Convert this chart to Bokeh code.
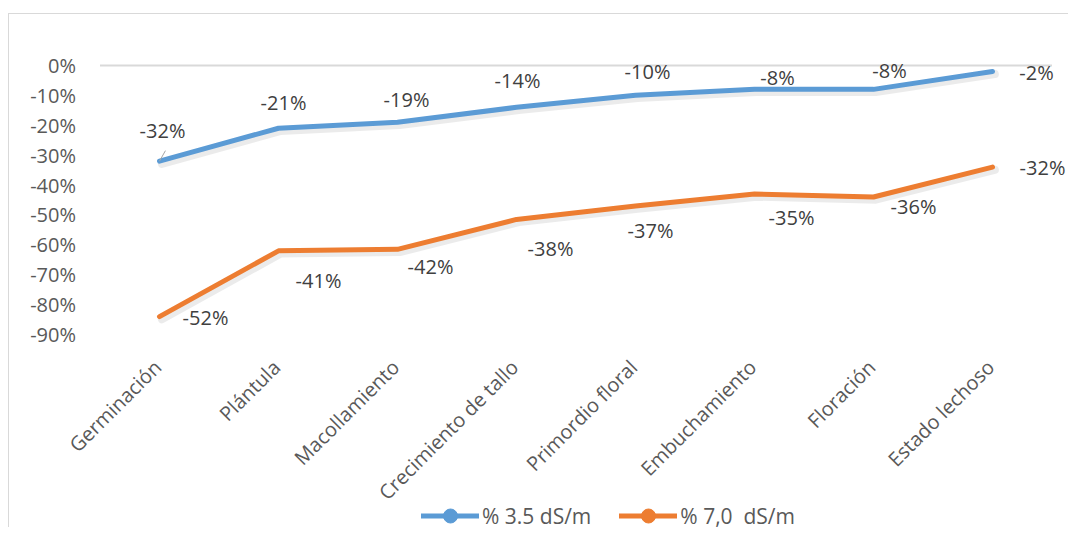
from bokeh.plotting import figure
from bokeh.models import Range1d, ColumnDataSource, Legend, LegendItem
from bokeh.core.properties import value
from bokeh.transform import dodge
from bokeh.embed import file_html
from bokeh.resources import INLINE
import math

categories = ["Germinación", "Plántula", "Macollamiento", "Crecimiento de tallo",
              "Primordio floral", "Embuchamiento", "Floración", "Estado lechoso"]
serie_35 = [-0.32, -0.21, -0.19, -0.14, -0.10, -0.08, -0.08, -0.02]
serie_70 = [-0.84, -0.62, -0.615, -0.515, -0.47, -0.43, -0.44, -0.34]
labels_35 = ["-32%", "-21%", "-19%", "-14%", "-10%", "-8%", "-8%", "-2%"]
labels_70 = ["-52%", "-41%", "-42%", "-38%", "-37%", "-35%", "-36%", "-32%"]
y_ticks = [0, -0.1, -0.2, -0.3, -0.4, -0.5, -0.6, -0.7, -0.8, -0.9]
y_tick_labels = ["0%", "-10%", "-20%", "-30%", "-40%", "-50%", "-60%", "-70%", "-80%", "-90%"]
name_35 = "% 3.5 dS/m"
name_70 = "% 7,0  dS/m"

# label placement (screen pixel offsets)
off_35 = [(3, -31), (5, -26), (9, -23), (1, -27), (12, -24), (23, -12), (16, -19), (44, 1)]
off_70 = [(46, 1), (40, 30), (33, 17), (34, 29), (15, 25), (37, 23), (40, 9), (50, 0)]

BLUE = "#5B9BD5"
ORANGE = "#ED7D31"
FONT = "Open Sans"
FS = "20px"

n = len(categories)
xs = list(range(n))
y_min = y_ticks[-1]

# layout: one category step = 119 px, 100 % = 299 px
W, H = 1060, 514
STEP = 119.0
UNIT = 299.0
TOP = 36
x_start = -150 / STEP
x_end = x_start + W / STEP
y_end = 0.05
y_start = y_end - (H - TOP) / UNIT
p = figure(x_range=Range1d(x_start, x_end), y_range=Range1d(y_start, y_end),
           width=W, height=H, output_backend="svg", toolbar_location=None,
           x_axis_location=None, y_axis_location=None,
           min_border_left=0, min_border_top=TOP, min_border_bottom=0, min_border_right=0)
p.styles = {"border-top": "1px solid #d9d9d9", "border-left": "1px solid #d9d9d9",
            "margin-top": "13px", "margin-left": "8px"}
p.outline_line_color = None
p.xgrid.visible = False
p.ygrid.visible = False

# horizontal axis line at 0 %, spanning the category band
p.segment(x0=[-0.5], y0=[0], x1=[n - 0.5], y1=[0], line_color="#d9d9d9", line_width=2)

src35 = ColumnDataSource(dict(x=xs, y=serie_35, t=labels_35,
                              dx=[o[0] for o in off_35], dy=[o[1] for o in off_35]))
src70 = ColumnDataSource(dict(x=xs, y=serie_70, t=labels_70,
                              dx=[o[0] for o in off_70], dy=[o[1] for o in off_70]))

# soft shadows
for src in (src35, src70):
    p.line(dodge("x", 0.02), dodge("y", -0.009), source=src, line_color="#000000",
           line_alpha=0.08, line_width=8, line_join="round", line_cap="round")

l35 = p.line("x", "y", source=src35, line_color=BLUE, line_width=5,
             line_join="round", line_cap="round")
l70 = p.line("x", "y", source=src70, line_color=ORANGE, line_width=5,
             line_join="round", line_cap="round")

# marker renderers used only by the legend (hidden on the chart)
m35 = p.scatter("x", "y", source=src35, size=14, fill_color=BLUE, line_color=BLUE, visible=False)
m70 = p.scatter("x", "y", source=src70, size=14, fill_color=ORANGE, line_color=ORANGE, visible=False)

# leader line of the first label
p.segment(x0=[0], y0=[serie_35[0]], x1=[0.05], y1=[serie_35[0] + 0.035],
          line_color="#a6a6a6", line_width=1)

# data labels
for src in (src35, src70):
    p.text("x", "y", text="t", source=src, x_offset="dx", y_offset="dy",
           text_align="center", text_baseline="middle", text_font=value(FONT),
           text_font_size=FS, text_color="#404040")

# value-axis labels
ytick_src = ColumnDataSource(dict(x=[-0.5] * len(y_ticks), y=y_ticks, t=y_tick_labels))
p.text("x", "y", text="t", source=ytick_src, x_offset=-24,
       text_align="right", text_baseline="middle", text_font=value(FONT),
       text_font_size=FS, text_color="#595959")

# category labels (rotated 45°) under the plotting band
cat_src = ColumnDataSource(dict(x=xs, y=[y_min] * n, t=categories))
p.text("x", "y", text="t", source=cat_src, angle=math.pi / 4, x_offset=-2, y_offset=29,
       text_align="right", text_baseline="middle", text_font=value(FONT),
       text_font_size=FS, text_color="#595959")

legend = Legend(items=[LegendItem(label=name_35, renderers=[l35, m35]),
                       LegendItem(label=name_70, renderers=[l70, m70])],
                orientation="horizontal", location=(412, -5),
                border_line_color=None, background_fill_alpha=0,
                inactive_fill_alpha=0, click_policy="none",
                glyph_width=58, glyph_height=35, label_standoff=3, spacing=28,
                margin=0, padding=0,
                label_text_font=FONT, label_text_font_size="21px",
                label_text_color="#595959")
p.add_layout(legend, "center")

open("out.html", "w").write(file_html(p, INLINE))
